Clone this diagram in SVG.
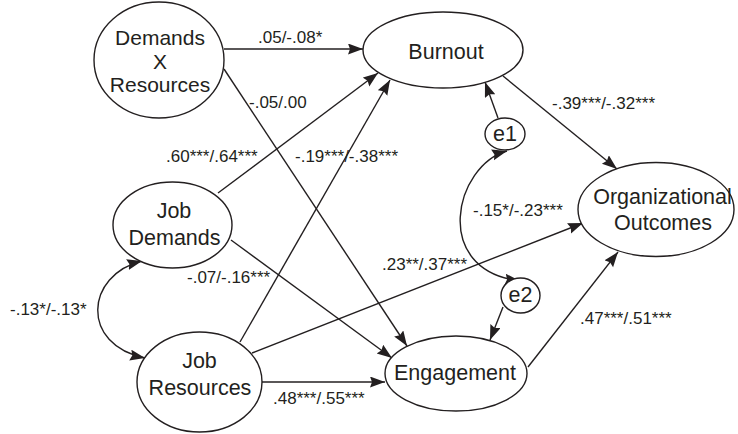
<svg xmlns="http://www.w3.org/2000/svg" width="738" height="434" viewBox="0 0 738 434">
<defs>
<marker id="ah" markerUnits="userSpaceOnUse" markerWidth="16" markerHeight="12" refX="15" refY="5.5" orient="auto-start-reverse">
<path d="M0,0 L15,5.5 L0,11 L2,5.5 z" fill="#231f20"/>
</marker>
<style>
.n ellipse{fill:#fff;stroke:#231f20;stroke-width:1.4}
.n text{font-family:"Liberation Sans",Arial,sans-serif;font-size:21.5px;fill:#231f20;text-anchor:middle}
.n text.s{font-size:21px}
.c path,.c line{fill:none;stroke:#231f20;stroke-width:1.4;marker-end:url(#ah)}
.c .bi{marker-start:url(#ah)}
.l text{font-family:"Liberation Sans",Arial,sans-serif;font-size:17px;fill:#231f20}
</style>
</defs>
<rect width="738" height="434" fill="#fff"/>
<g class="c" id="connectors">
<line x1="224" y1="49" x2="363" y2="49"/>
<line x1="224" y1="69" x2="407" y2="346"/>
<line x1="218" y1="193" x2="378" y2="73"/>
<line x1="240" y1="342" x2="390" y2="80"/>
<line x1="231" y1="240" x2="392" y2="358"/>
<line x1="252" y1="353" x2="583" y2="223"/>
<line x1="262" y1="382" x2="385" y2="382"/>
<line x1="503" y1="76" x2="617" y2="169"/>
<line x1="528" y1="367" x2="618" y2="252"/>
<line x1="498" y1="118" x2="485" y2="82"/>
<line x1="503" y1="307" x2="490" y2="340"/>
<path class="bi" d="M142,261 C85,275 80,345 145,358"/>
<path class="bi" d="M507,151 C455,165 430,270 520,281"/>
</g>
<g class="n" id="dxr"><ellipse cx="159" cy="60" rx="65" ry="58"/><text class="s" x="160" y="45">Demands</text><text class="s" x="160" y="68.5">X</text><text class="s" x="160" y="92">Resources</text></g>
<g class="n" id="burnout"><ellipse cx="443" cy="50" rx="80" ry="38"/><text x="446" y="59">Burnout</text></g>
<g class="n" id="jd"><ellipse cx="172.5" cy="225" rx="59.5" ry="43"/><text x="174" y="218">Job</text><text x="174.5" y="245">Demands</text></g>
<g class="n" id="jr"><ellipse cx="199.5" cy="382" rx="62.5" ry="50"/><text x="199.5" y="368">Job</text><text x="200" y="395">Resources</text></g>
<g class="n" id="engagement"><ellipse cx="456" cy="373.5" rx="71" ry="37.5"/><text x="455" y="380">Engagement</text></g>
<g class="n" id="outcomes"><ellipse cx="656" cy="209.5" rx="78" ry="47"/><text x="662.5" y="204">Organizational</text><text x="663" y="230">Outcomes</text></g>
<g class="n" id="e1"><ellipse cx="505" cy="134" rx="20" ry="16"/><text x="505" y="141">e1</text></g>
<g class="n" id="e2"><ellipse cx="520.5" cy="295.5" rx="19.5" ry="17.5"/><text x="520.5" y="302">e2</text></g>
<g class="l" id="labels">
<text x="258" y="43">.05/-.08*</text>
<text x="249" y="108">-.05/.00</text>
<text x="166" y="162">.60***/.64***</text>
<text x="295" y="162">-.19***/-.38***</text>
<text x="552" y="109">-.39***/-.32***</text>
<text x="473" y="216">-.15*/-.23***</text>
<text x="382" y="270">.23**/.37***</text>
<text x="187" y="283">-.07/-.16***</text>
<text x="10" y="315">-.13*/-.13*</text>
<text x="273" y="404">.48***/.55***</text>
<text x="580" y="324">.47***/.51***</text>
</g>
</svg>
